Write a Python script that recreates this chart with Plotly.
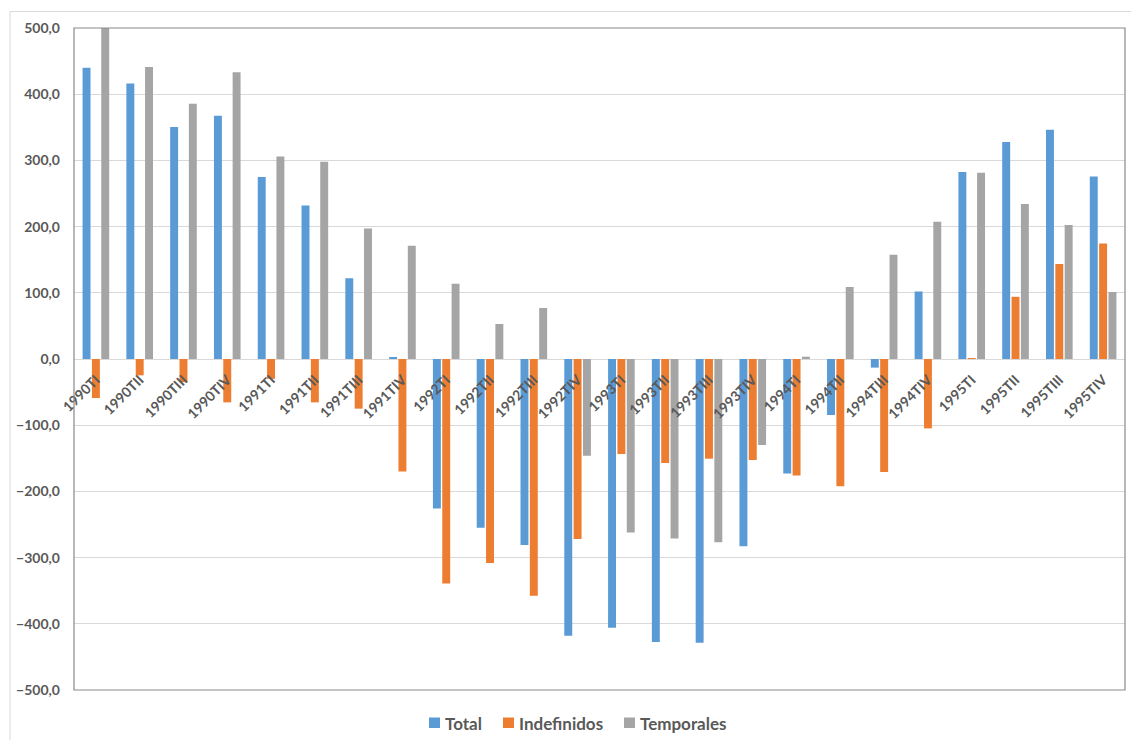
import plotly.graph_objects as go

# Quarterly employment change, 1990-1995
categories = [
    "1990TI", "1990TII", "1990TIII", "1990TIV",
    "1991TI", "1991TII", "1991TIII", "1991TIV",
    "1992TI", "1992TII", "1992TIII", "1992TIV",
    "1993TI", "1993TII", "1993TIII", "1993TIV",
    "1994TI", "1994TII", "1994TIII", "1994TIV",
    "1995TI", "1995TII", "1995TIII", "1995TIV",
]

total = [
    440.0, 416.0, 350.4, 367.5,
    275.0, 232.0, 122.0, 2.0,
    -225.7, -255.0, -281.0, -418.0,
    -406.0, -427.5, -428.5, -283.0,
    -172.8, -84.6, -13.0, 102.0,
    282.5, 327.8, 346.4, 275.8,
]

indefinidos = [
    -59.0, -24.7, -35.0, -65.5,
    -30.0, -65.5, -75.0, -170.0,
    -339.0, -308.0, -357.6, -272.0,
    -143.5, -157.0, -150.6, -152.6,
    -176.0, -192.4, -170.7, -104.8,
    0.5, 94.0, 143.5, 174.6,
]

temporales = [
    500.0, 441.0, 385.6, 433.0,
    306.0, 298.0, 197.0, 171.0,
    113.7, 52.9, 77.0, -146.0,
    -262.0, -271.0, -277.0, -130.0,
    3.5, 108.8, 157.6, 207.4,
    281.4, 234.0, 202.4, 101.2,
]

y_ticks = [500, 400, 300, 200, 100, 0, -100, -200, -300, -400, -500]

series_names = ["Total", "Indefinidos", "Temporales"]
series_values = [total, indefinidos, temporales]
series_colors = ["#5B9BD5", "#ED7D31", "#A5A5A5"]

W, H = 1131, 740
L, R, T, B = 74, 6, 28, 50
pw, ph = W - L - R, H - T - B

FONT = "Lato, 'Open Sans', sans-serif"
TXT = "#595959"


def px_x(p):
    return (p - L) / pw


def px_y(p):
    return (H - B - p) / ph


fig = go.Figure()
for name, vals, color in zip(series_names, series_values, series_colors):
    fig.add_trace(go.Bar(
        x=categories, y=vals, name=name,
        marker=dict(color=color, line=dict(width=0)),
        showlegend=False,
    ))

# Legend drawn as swatches + labels under the plot
legend_swatch_x = [429, 503, 624]
shapes = [
    # plot area frame
    dict(type="rect", xref="paper", yref="paper", x0=0, x1=1, y0=0, y1=1,
         line=dict(color="#898989", width=1.2), fillcolor="rgba(0,0,0,0)",
         layer="above"),
    # chart area frame
    dict(type="rect", xref="paper", yref="paper",
         x0=px_x(10), x1=px_x(1140), y0=px_y(750), y1=px_y(11.5),
         line=dict(color="#D9D9D9", width=1), fillcolor="rgba(0,0,0,0)",
         layer="below"),
]
annotations = []
for name, color, sx in zip(series_names, series_colors, legend_swatch_x):
    shapes.append(dict(
        type="rect", xref="paper", yref="paper",
        x0=px_x(sx), x1=px_x(sx + 11), y0=px_y(728), y1=px_y(717.5),
        line=dict(width=0), fillcolor=color,
    ))
    annotations.append(dict(
        text=name, xref="paper", yref="paper",
        x=px_x(sx + 14), y=px_y(723), xanchor="left", yanchor="middle",
        showarrow=False,
        font=dict(family=FONT, size=17, color=TXT, weight="bold"),
    ))

fig.update_layout(
    width=W, height=H,
    margin=dict(l=L, r=R, t=T, b=B, autoexpand=False),
    paper_bgcolor="white", plot_bgcolor="white",
    barmode="group", bargap=0.36, bargroupgap=0.15,
    separators=",.",
    font=dict(family=FONT, color=TXT, size=13),
    showlegend=False,
    xaxis=dict(
        anchor="free", position=0.5,
        showline=False, showgrid=False, ticks="",
        tickangle=-45, ticklabelstandoff=9,
        tickfont=dict(family=FONT, size=14, color=TXT, weight="bold"),
        zeroline=False,
    ),
    yaxis=dict(
        range=[-500, 500],
        tickvals=y_ticks, tickformat=".1f",
        showgrid=True, gridcolor="#D9D9D9", gridwidth=1,
        zeroline=True, zerolinecolor="#D9D9D9", zerolinewidth=1,
        showline=False, ticks="",
        ticklabelstandoff=13,
        tickfont=dict(family=FONT, size=14, color=TXT, weight="bold"),
    ),
    shapes=shapes,
    annotations=annotations,
)

fig.write_html("out.html")
